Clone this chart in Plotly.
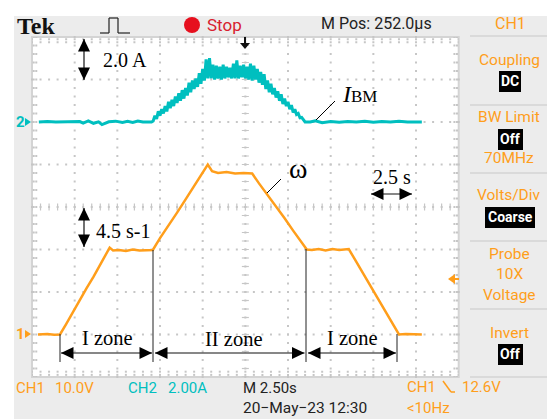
import plotly.graph_objects as go

W, H = 547, 419

# ---- data (oscilloscope record) ----
omega_t = [0.35, 0.9, 1.3, 1.64, 2.0, 2.4, 2.8, 3.2, 3.6, 4.0, 4.3, 4.55, 4.75, 5.1, 5.5, 5.9, 6.3, 6.7, 7.08,
           7.5, 8.0, 8.5, 9.0, 9.5, 10.0, 10.3, 10.55, 10.9, 11.4, 11.9, 12.4, 12.9, 13.3, 13.8, 14.3, 14.8, 15.3,
           15.8, 16.1, 16.4, 16.8, 17.2, 17.6, 18.0, 18.56, 18.9, 19.3, 19.8, 20.3, 20.8, 21.2, 21.5, 21.9, 22.4, 22.84]
omega = [0.0, 0.04, -0.03, 0.0, 1.1, 2.4, 3.6, 4.9, 6.1, 7.4, 8.3, 9.2, 8.9, 8.95, 8.85, 9.0, 8.9, 8.95, 8.95,
         10.2, 11.5, 12.9, 14.3, 15.7, 17.1, 18.0, 17.3, 17.1, 17.2, 17.05, 17.1, 17.05, 16.0, 14.8, 13.5, 12.3, 11.0,
         9.8, 9.0, 8.95, 9.05, 8.9, 9.05, 8.95, 9.05, 8.0, 6.75, 5.2, 3.7, 2.1, 0.9, 0.0, 0.05, 0.0, 0.0]

current_t = [0.4, 0.9, 1.4, 1.9, 2.3, 2.8, 3.0, 3.3, 3.6, 3.9, 4.1, 4.5, 4.9, 5.3, 5.6, 5.9, 6.2, 6.5, 7.0,
             7.1, 7.2, 7.3, 7.4, 7.5, 7.6, 7.7, 7.8, 7.9, 8.0, 8.1, 8.2, 8.3, 8.4, 8.5, 8.6, 8.7, 8.8, 8.9, 9.0,
             9.1, 9.2, 9.3, 9.4, 9.5, 9.6, 9.7, 9.8, 9.9, 10.0, 10.1, 10.2, 10.3, 10.4, 10.5, 10.6, 10.7, 10.8, 10.9,
             11.0, 11.1, 11.2, 11.3, 11.4, 11.5, 11.6, 11.7, 11.8, 11.9, 12.0, 12.1, 12.2, 12.3, 12.4, 12.5, 12.6,
             12.7, 12.8, 12.9, 13.0, 13.1, 13.2, 13.3, 13.4, 13.5, 13.6, 13.7, 13.8, 13.9, 14.0, 14.1, 14.2, 14.3,
             14.4, 14.5, 14.6, 14.7, 14.8, 14.9, 15.0, 15.1, 15.2, 15.3, 15.4, 15.5, 15.6, 15.7, 15.8, 16.0,
             16.3, 16.6, 17.0, 17.5, 18.0, 18.5, 19.0, 19.5, 20.0, 20.5, 21.0, 21.5, 22.0, 22.84]
current = [0.0, 0.02, 0.0, 0.01, -0.01, 0.02, -0.05, 0.05, -0.06, 0.01, -0.12, 0.01, 0.04, -0.02, 0.03, -0.02, 0.05, 0.0, 0.0,
           0.05, 0.3, 0.15, 0.5, 0.3, 0.6, 0.4, 0.75, 0.5, 0.95, 0.65, 1.05, 0.75, 1.2, 0.9, 1.35, 1.0, 1.5, 1.1, 1.6,
           1.25, 1.85, 1.4, 1.95, 1.55, 2.05, 1.65, 2.3, 1.8, 2.5, 1.95, 2.95, 2.05, 3.0, 2.05, 2.7, 2.0, 2.65, 2.05,
           2.6, 2.0, 2.7, 2.05, 2.6, 2.1, 2.55, 2.05, 2.75, 2.05, 2.9, 2.05, 2.65, 2.1, 2.7, 2.05, 2.6,
           2.0, 2.75, 1.95, 2.65, 2.0, 2.5, 1.85, 2.35, 1.75, 2.25, 1.55, 1.95, 1.4, 1.8, 1.3, 1.6, 1.15,
           1.45, 1.0, 1.3, 0.85, 1.1, 0.75, 0.95, 0.6, 0.8, 0.45, 0.6, 0.35, 0.4, 0.2, 0.22, 0.0,
           0.0, 0.06, -0.03, 0.02, -0.01, 0.02, 0.0, 0.04, -0.01, 0.02, 0.0, 0.04, 0.0, 0.0]

ORANGE = "#ff9e1b"
TEAL = "#00bfbf"
GRID = "#c6c6c6"
PANEL = "#ececec"
EDGE = "#d4d4d4"
NARROW = "Roboto"
SERIF = "Liberation Serif"


def px(x):
    return x / W


def py(y):
    return 1 - y / H


shapes = []
annotations = []


def rect(x0, y0, x1, y1, fill, line=None):
    shapes.append(dict(type="rect", xref="paper", yref="paper", x0=px(x0), x1=px(x1), y0=py(y0), y1=py(y1),
                       fillcolor=fill, line=dict(width=0 if line is None else 2, color=line or fill), layer="below"))


def seg(x0, y0, x1, y1, color="black", width=1, layer="above"):
    shapes.append(dict(type="line", xref="paper", yref="paper", x0=px(x0), x1=px(x1), y0=py(y0), y1=py(y1),
                       line=dict(color=color, width=width), layer=layer))


def text(x, y, s, color="black", size=15, family=NARROW, anchor="left"):
    annotations.append(dict(xref="paper", yref="paper", x=px(x), y=py(y), text=s, showarrow=False, xanchor=anchor,
                            yanchor="middle", borderpad=0, align=anchor,
                            font=dict(color=color, size=size, family=family)))


def poly(points, fill, line=None):
    path = "M" + " L".join(f"{px(a):.5f},{py(b):.5f}" for a, b in points) + " Z"
    shapes.append(dict(type="path", xref="paper", yref="paper", path=path, fillcolor=fill,
                       line=dict(width=0, color=fill), layer="above"))


def double_arrow(x0, y0, x1, y1, length=12.5, half=6):
    seg(x0, y0, x1, y1, "#111111", 1.2)
    if x0 == x1:
        poly([(x0, y0), (x0 - half, y0 + length), (x0 + half, y0 + length)], "black")
        poly([(x1, y1), (x1 - half, y1 - length), (x1 + half, y1 - length)], "black")
    else:
        poly([(x0, y0), (x0 + length, y0 - half), (x0 + length, y0 + half)], "black")
        poly([(x1, y1), (x1 - length, y1 - half), (x1 - length, y1 + half)], "black")


# panels
rect(14, 16, 547, 419, PANEL)
rect(32, 37, 458.7, 377, "white", EDGE)
for yy in [36, 105, 173, 241, 309, 377]:
    seg(470, yy, 547, yy, EDGE, 1.5, "below")

fig = go.Figure()

# graticule, in divisions of the time / current axes
major_x = [2.5 * i for i in range(1, 10)]
major_y = [4 - 2 * i for i in range(1, 8)]
sub_x = [0.5 * i for i in range(0, 51)]
sub_y = [4 - 0.4 * i for i in range(0, 41)]
gx, gy = [], []
for x in major_x:
    for y in sub_y:
        gx.append(x)
        gy.append(y)
for y in major_y:
    for x in sub_x:
        gx.append(x)
        gy.append(y)
fig.add_trace(go.Scatter(x=gx, y=gy, mode="markers", hoverinfo="skip", showlegend=False,
                         marker=dict(symbol="square", size=2, color=GRID), cliponaxis=False))
# ticks on the frame and centre cross
fig.add_trace(go.Scatter(x=[x for x in sub_x for _ in (0, 1)], y=[3.9, 3.75] * len(sub_x),
                         mode="markers", hoverinfo="skip", showlegend=False,
                         marker=dict(symbol="square", size=2, color=GRID)))
fig.add_trace(go.Scatter(x=[x for x in sub_x for _ in (0, 1)], y=[-11.9, -11.75] * len(sub_x),
                         mode="markers", hoverinfo="skip", showlegend=False,
                         marker=dict(symbol="square", size=2, color=GRID)))
fig.add_trace(go.Scatter(x=[0.1, 0.25] * len(sub_y), y=[y for y in sub_y for _ in (0, 1)],
                         mode="markers", hoverinfo="skip", showlegend=False,
                         marker=dict(symbol="square", size=2, color=GRID)))
fig.add_trace(go.Scatter(x=[24.9, 24.75] * len(sub_y), y=[y for y in sub_y for _ in (0, 1)],
                         mode="markers", hoverinfo="skip", showlegend=False,
                         marker=dict(symbol="square", size=2, color=GRID)))
fig.add_trace(go.Scatter(x=[12.5] * len(sub_y), y=sub_y, mode="markers", hoverinfo="skip", showlegend=False,
                         marker=dict(symbol="line-ew", size=5, line=dict(width=1.2, color=GRID), color=GRID)))
fig.add_trace(go.Scatter(x=sub_x, y=[-4] * len(sub_x), mode="markers", hoverinfo="skip", showlegend=False,
                         marker=dict(symbol="line-ns", size=5, line=dict(width=1.2, color=GRID), color=GRID)))

# signals
fig.add_trace(go.Scatter(x=current_t, y=current, mode="lines", name="I_BM", showlegend=False,
                         line=dict(color=TEAL, width=3)))
fig.add_trace(go.Scatter(x=omega_t, y=omega, mode="lines", name="omega", yaxis="y2", showlegend=False,
                         line=dict(color=ORANGE, width=2.5)))

# header
text(16, 26, "<b>Tek</b>", "#111111", 24, SERIF)
seg(100, 33, 109, 33, "#222222", 1.2)
seg(109, 33, 109, 18, "#222222", 1.2)
seg(109, 18, 118, 18, "#222222", 1.2)
seg(118, 18, 118, 33, "#222222", 1.2)
seg(118, 33, 130, 33, "#222222", 1.2)
shapes.append(dict(type="circle", xref="paper", yref="paper", x0=px(184), x1=px(200), y0=py(17), y1=py(33),
                   fillcolor="#e60f1e", line=dict(width=0), layer="above"))
text(206, 25, "Stop", "#d8202e", 17)
text(320, 24, "M Pos: 252.0µs", "#222222", 16)
text(510, 24, "CH1", ORANGE, 16, anchor="center")

# right hand menu
text(509, 60, "Coupling", ORANGE, 15.5, anchor="center")
rect(499, 71, 521, 92, "black")
text(510, 81, "<b>DC</b>", "white", 14, anchor="center")
text(509, 117, "BW Limit", ORANGE, 15.5, anchor="center")
rect(498, 129, 523, 150, "black")
text(510, 139, "<b>Off</b>", "white", 14, anchor="center")
text(509, 158, "70MHz", ORANGE, 15.5, anchor="center")
text(509, 195, "Volts/Div", ORANGE, 15.5, anchor="center")
rect(485, 207, 535, 228, "black")
text(510, 217, "<b>Coarse</b>", "white", 14, anchor="center")
text(509, 254, "Probe", ORANGE, 15.5, anchor="center")
text(509, 274, "10X", ORANGE, 15.5, anchor="center")
text(509, 295, "Voltage", ORANGE, 15.5, anchor="center")
text(509, 333, "Invert", ORANGE, 15.5, anchor="center")
rect(498, 344, 523, 365, "black")
text(510, 354, "<b>Off</b>", "white", 14, anchor="center")

# footer
text(15, 388, "CH1", ORANGE, 15)
text(54, 388, "10.0V", ORANGE, 15)
text(127, 388, "CH2", TEAL, 15)
text(167, 388, "2.00A", TEAL, 15)
text(242, 388, "M 2.50s", "#222222", 15)
text(242, 408, "20−May−23 12:30", "#222222", 15.5)
text(406, 387, "CH1", ORANGE, 15)
seg(443, 381, 451, 392, ORANGE, 1.5)
seg(451, 392, 455, 392, ORANGE, 1.5)
text(461, 387, "12.6V", ORANGE, 15)
text(406, 408, "&lt;10Hz", ORANGE, 15)

# channel markers
text(15, 122, "<b>2</b>", TEAL, 15)
poly([(25, 118), (31, 122), (25, 126)], TEAL)
text(15, 334, "<b>1</b>", ORANGE, 15)
poly([(25, 330), (31, 334), (25, 338)], ORANGE)
poly([(448, 279), (455, 274), (455, 284)], ORANGE)
seg(453, 279, 459, 279, ORANGE, 2)
poly([(240, 43), (250, 43), (245, 49)], "#111111")
seg(245, 37, 245, 45, "#111111", 2)

# annotations of the figure
double_arrow(84, 39, 84, 80)
text(102, 60, "2.0 A", "black", 20, SERIF)
double_arrow(84, 208, 84, 247)
text(95, 231, "4.5 s-1", "black", 20, SERIF)
double_arrow(371, 194, 412, 194)
text(392, 177, "2.5 s", "black", 20, SERIF, "center")
text(341, 94, "<i>I</i><span style='font-size:17px'>BM</span>", "black", 24, SERIF)
text(298, 168, "ω", "black", 28, SERIF, "center")
seg(316, 120, 335, 101)
seg(267, 193, 281, 179)

seg(60, 334, 60, 362, "#222222", 1)
seg(153, 250, 153, 362, "#222222", 1)
seg(306, 249, 306, 362, "#222222", 1)
seg(397, 334, 397, 362, "#222222", 1)
double_arrow(61, 353, 152, 353)
double_arrow(155, 353, 304.5, 353)
double_arrow(308, 353, 396, 353)
text(107, 338, "I zone", "black", 20.5, SERIF, "center")
text(233, 339, "II zone", "black", 20.5, SERIF, "center")
text(352, 338, "I zone", "black", 20.5, SERIF, "center")

fig.update_layout(
    width=W, height=H, autosize=False,
    margin=dict(l=0, r=0, t=0, b=0, pad=0),
    paper_bgcolor="white", plot_bgcolor="rgba(0,0,0,0)", showlegend=False,
    xaxis=dict(domain=[32 / W, 458.7 / W], range=[0, 25], visible=False, fixedrange=True),
    yaxis=dict(domain=[1 - 377 / H, 1 - 37 / H], range=[-12, 4], visible=False, fixedrange=True),
    yaxis2=dict(domain=[1 - 377 / H, 1 - 37 / H], range=[-4.5, 31.5], visible=False, overlaying="y", fixedrange=True),
    shapes=shapes, annotations=annotations,
)

fig.write_html("out.html", config=dict(displayModeBar=False),
               post_script="document.body.style.margin='0';document.documentElement.style.overflow='hidden';")
